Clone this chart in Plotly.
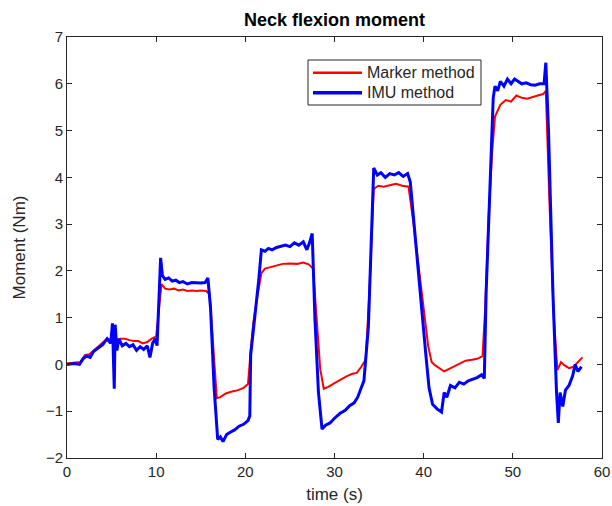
import plotly.graph_objects as go

# Marker method (red)
t_marker = [0, 0.8, 1.5, 2.0, 2.5, 3.0, 3.5, 4.0, 4.5, 5.0, 5.5, 6.0, 6.5, 7.0, 7.5, 8.0, 8.5, 9.0, 9.5, 10.0,
            10.3, 10.6, 11.0, 11.5, 12, 12.5, 13, 13.5, 14, 14.5, 15, 15.6, 16.0, 16.4, 16.8, 17.2, 17.8, 18.5,
            19.2, 19.8, 20.3, 20.6, 20.9, 21.3, 21.8, 22.2, 22.8, 23.5, 24.2, 25, 25.8, 26.5, 27.1, 27.6, 28.0,
            28.4, 28.8, 29.3, 30, 30.7, 31.4, 32, 32.5, 33.0, 33.5, 33.9, 34.4, 34.9, 35.5, 36.2, 36.9, 37.6,
            38.3, 38.8, 39.4, 40.0, 40.5, 40.9, 41.3, 41.8, 42.3, 42.8, 43.3, 44, 44.7, 45.4, 46.0, 46.6, 46.9,
            47.3, 47.7, 48.0, 48.6, 49.2, 49.8, 50.4, 51, 51.6, 52.2, 52.8, 53.4, 53.7, 54.1, 54.6, 55.0, 55.4,
            55.8, 56.3, 56.8, 57.3, 57.8]
v_marker = [0.02, 0.03, 0.05, 0.2, 0.22, 0.3, 0.38, 0.45, 0.55, 0.52, 0.5, 0.55, 0.55, 0.52, 0.5, 0.5, 0.45,
            0.48, 0.55, 0.6,
            1.2, 1.72, 1.62, 1.6, 1.62, 1.58, 1.6, 1.57, 1.58, 1.57, 1.58, 1.57, 1.5, 0.4, -0.72, -0.7, -0.62,
            -0.58, -0.55, -0.5, -0.42, 0.3, 0.9, 1.4, 1.95, 2.05, 2.08, 2.12, 2.15, 2.16, 2.15, 2.18, 2.14, 2.05,
            1.0, -0.1, -0.52, -0.48, -0.4, -0.32, -0.25, -0.2, -0.18, -0.05, 0.1, 1.5, 3.75, 3.82, 3.8, 3.83,
            3.86, 3.82, 3.8, 3.1, 2.2, 1.2, 0.4, 0.05, -0.02, -0.08, -0.15, -0.1, -0.05, 0.02, 0.08, 0.1, 0.12,
            0.18, 1.2, 3.2, 4.6, 5.3, 5.55, 5.65, 5.62, 5.75, 5.7, 5.68, 5.72, 5.75, 5.78, 5.85, 3.5, 1.0, -0.12,
            0.05, -0.02, -0.08, -0.05, 0.05, 0.15]

# IMU method (blue)
t_imu = [0, 0.8, 1.4, 1.8, 2.2, 2.6, 3.0, 3.5, 4.0, 4.5, 4.9, 5.1, 5.2, 5.3, 5.4, 5.6, 5.8, 6.2, 6.6, 7.0, 7.4,
         7.8, 8.2, 8.6, 9.0, 9.3, 9.6, 9.9, 10.1, 10.3, 10.5, 10.7, 11.0, 11.4, 11.8, 12.2, 12.6, 13.0, 13.5,
         14.0, 14.5, 15.0, 15.5, 15.8, 16.1, 16.5, 16.9, 17.2, 17.5, 17.9, 18.3, 18.8, 19.3, 19.8, 20.3, 20.5,
         20.6, 21.0, 21.5, 21.8, 22.2, 22.6, 23.0, 23.5, 24.0, 24.5, 25.0, 25.5, 26.0, 26.5, 26.9, 27.2, 27.5,
         27.8, 28.2, 28.6, 29.0, 29.5, 30.0, 30.6, 31.2, 31.7, 32.2, 32.6, 33.0, 33.3, 33.8, 34.2, 34.4, 34.8,
         35.2, 35.7, 36.2, 36.7, 37.2, 37.7, 38.2, 38.5, 39.0, 39.6, 40.2, 40.6, 41.0, 41.5, 42.0, 42.3, 42.6,
         43.0, 43.5, 44.0, 44.5, 45.0, 45.5, 46.0, 46.5, 46.8, 47.0, 47.4, 47.8, 48.0, 48.3, 48.6, 49.0, 49.4,
         49.8, 50.2, 50.6, 51.0, 51.5, 52.0, 52.5, 53.0, 53.5, 53.7, 54.0, 54.5, 54.9, 55.1, 55.3, 55.6, 55.9,
         56.3, 56.7, 57.0, 57.3, 57.7]
v_imu = [0.0, 0.02, 0.0, 0.12, 0.18, 0.15, 0.28, 0.35, 0.42, 0.55, 0.45, 0.88, 0.2, -0.52, 0.85, 0.3, 0.55,
         0.4, 0.45, 0.38, 0.42, 0.3, 0.38, 0.32, 0.4, 0.15, 0.45, 0.55, 0.4, 1.5, 2.28, 1.9, 1.82, 1.85, 1.78,
         1.8, 1.75, 1.77, 1.72, 1.75, 1.74, 1.74, 1.75, 1.85, 1.2, -0.5, -1.6, -1.55, -1.65, -1.5, -1.45, -1.4,
         -1.32, -1.28, -1.2, -1.1, 0.2, 0.9, 1.8, 2.45, 2.42, 2.48, 2.45, 2.5, 2.52, 2.55, 2.52, 2.6, 2.55, 2.62,
         2.45, 2.6, 2.8, 1.0, -0.6, -1.38, -1.3, -1.25, -1.15, -1.05, -0.98, -0.88, -0.82, -0.7, -0.5, -0.35,
         0.8, 3.2, 4.2, 4.05, 4.1, 4.0, 4.08, 4.05, 4.1, 4.02, 4.08, 3.9, 2.8, 1.5, 0.3, -0.5, -0.85, -0.95,
         -1.02, -0.6, -0.7, -0.45, -0.5, -0.38, -0.42, -0.35, -0.32, -0.28, -0.22, -0.3, 1.5, 3.8, 5.7, 5.95,
         5.85, 6.05, 5.95, 6.1, 6.0, 6.1, 6.05, 6.0, 6.02, 5.98, 5.97, 6.0, 6.0, 6.45, 5.0, 1.5, -0.6, -1.25,
         -0.6, -0.9, -0.55, -0.45, -0.25, 0.0, -0.15, -0.05]

x_ticks = [0, 10, 20, 30, 40, 50, 60]
y_ticks = [-2, -1, 0, 1, 2, 3, 4, 5, 6, 7]
series_names = ["Marker method", "IMU method"]
series_colors = ["#ff0000", "#0000ff"]
series_widths = [2, 3]

TXT = "#262626"
FONT = "Liberation Sans, Arial, sans-serif"

fig = go.Figure()
fig.add_trace(go.Scatter(x=t_marker, y=v_marker, mode="lines", name=series_names[0],
                         line=dict(color=series_colors[0], width=series_widths[0]), showlegend=False))
fig.add_trace(go.Scatter(x=t_imu, y=v_imu, mode="lines", name=series_names[1],
                         line=dict(color=series_colors[1], width=series_widths[1]), showlegend=False))

axis_common = dict(showline=True, linecolor=TXT, linewidth=1, mirror="allticks", ticks="inside",
                   ticklen=5, tickcolor=TXT, showgrid=False, zeroline=False, automargin=False,
                   tickfont=dict(family=FONT, size=15, color=TXT))

# Plot area in pixels: x 67..602, y 37..458
L, R, T, B = 67, 602, 37, 458
def px(x):
    return (x - L) / (R - L)
def py(y):
    return (B - y) / (B - T)

shapes = [dict(type="rect", xref="paper", yref="paper", x0=px(308), x1=px(481), y0=py(105), y1=py(60),
               line=dict(color=TXT, width=1), fillcolor="white", layer="above")]
annotations = []
for i, (nm, col, w) in enumerate(zip(series_names, series_colors, series_widths)):
    yy = 72.7 + 20 * i
    shapes.append(dict(type="line", xref="paper", yref="paper", x0=px(313), x1=px(362), y0=py(yy), y1=py(yy),
                       line=dict(color=col, width=w + 0.5), layer="above"))
    annotations.append(dict(text=nm, xref="paper", yref="paper", x=px(365), y=py(yy), xanchor="left",
                            yanchor="middle", showarrow=False,
                            font=dict(family=FONT, size=16, color=TXT)))

fig.update_layout(
    width=612, height=506,
    margin=dict(l=L, r=612 - R, t=T, b=506 - B),
    paper_bgcolor="white", plot_bgcolor="white",
    title=dict(text="<b>Neck flexion moment</b>", x=(L + R) / 2 / 612, xanchor="center",
               y=1 - 20 / 506, yanchor="middle", font=dict(family=FONT, size=18, color="black")),
    xaxis=dict(range=[0, 60], tickvals=x_ticks, title=dict(text="time (s)", standoff=9,
               font=dict(family=FONT, size=17, color=TXT)), **axis_common),
    yaxis=dict(range=[-2, 7], tickvals=y_ticks, title=dict(text="Moment (Nm)", standoff=15,
               font=dict(family=FONT, size=17, color=TXT)), **axis_common),
    showlegend=False,
    shapes=shapes,
    annotations=annotations,
)

fig.write_html("out.html")
